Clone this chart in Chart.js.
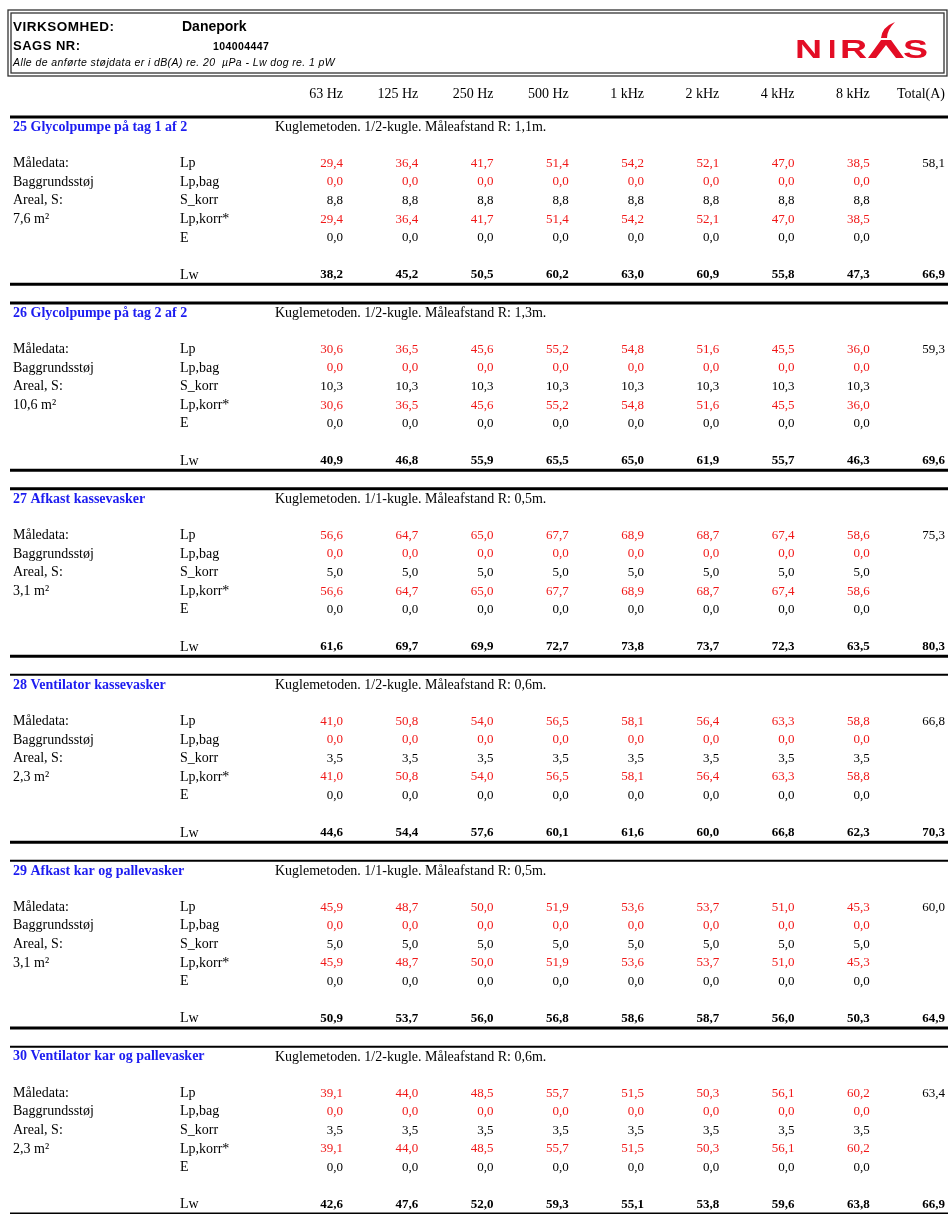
<!DOCTYPE html>
<html>
<head>
<meta charset="utf-8">
<script src="https://cdn.jsdelivr.net/npm/chart.js@4.4.1/dist/chart.umd.min.js"></script>
<style>
  html, body { margin: 0; padding: 0; background: #fff; }
  #myChart { display: block; width: 948px; height: 1214px; }
</style>
</head>
<body>
<canvas id="myChart" width="948" height="1214"></canvas>
<script>
const freqLabels = ['63 Hz', '125 Hz', '250 Hz', '500 Hz', '1 kHz', '2 kHz', '4 kHz', '8 kHz', 'Total(A)']

const sectionTitles = [
    '25 Glycolpumpe på tag 1 af 2',
    '26 Glycolpumpe på tag 2 af 2',
    '27 Afkast kassevasker',
    '28 Ventilator kassevasker',
    '29 Afkast kar og pallevasker',
    '30 Ventilator kar og pallevasker'
]
const methodTexts = [
    'Kuglemetoden. 1/2-kugle. Måleafstand R: 1,1m.',
    'Kuglemetoden. 1/2-kugle. Måleafstand R: 1,3m.',
    'Kuglemetoden. 1/1-kugle. Måleafstand R: 0,5m.',
    'Kuglemetoden. 1/2-kugle. Måleafstand R: 0,6m.',
    'Kuglemetoden. 1/1-kugle. Måleafstand R: 0,5m.',
    'Kuglemetoden. 1/2-kugle. Måleafstand R: 0,6m.'
]
const areaTexts = ['7,6 m²', '10,6 m²', '3,1 m²', '2,3 m²', '3,1 m²', '2,3 m²']

// Lp per oktavbånd 63 Hz .. 8 kHz
const lp = [
    [29.4, 36.4, 41.7, 51.4, 54.2, 52.1, 47.0, 38.5],
    [30.6, 36.5, 45.6, 55.2, 54.8, 51.6, 45.5, 36.0],
    [56.6, 64.7, 65.0, 67.7, 68.9, 68.7, 67.4, 58.6],
    [41.0, 50.8, 54.0, 56.5, 58.1, 56.4, 63.3, 58.8],
    [45.9, 48.7, 50.0, 51.9, 53.6, 53.7, 51.0, 45.3],
    [39.1, 44.0, 48.5, 55.7, 51.5, 50.3, 56.1, 60.2]
]
const lpTotal = [58.1, 59.3, 75.3, 66.8, 60.0, 63.4]
const lpBag = [0.0, 0.0, 0.0, 0.0, 0.0, 0.0]
const sKorr = [8.8, 10.3, 5.0, 3.5, 5.0, 3.5]
const eKorr = [0.0, 0.0, 0.0, 0.0, 0.0, 0.0]
// Lp,korr* er den samme som Lp (baggrund 0,0)
const lpKorr = lp
// Lw 63 Hz .. 8 kHz + Total(A)
const lw = [
    [38.2, 45.2, 50.5, 60.2, 63.0, 60.9, 55.8, 47.3, 66.9],
    [40.9, 46.8, 55.9, 65.5, 65.0, 61.9, 55.7, 46.3, 69.6],
    [61.6, 69.7, 69.9, 72.7, 73.8, 73.7, 72.3, 63.5, 80.3],
    [44.6, 54.4, 57.6, 60.1, 61.6, 60.0, 66.8, 62.3, 70.3],
    [50.9, 53.7, 56.0, 56.8, 58.6, 58.7, 56.0, 50.3, 64.9],
    [42.6, 47.6, 52.0, 59.3, 55.1, 53.8, 59.6, 63.8, 66.9]
]

const rowNames = ['Lp', 'Lp,bag', 'S_korr', 'Lp,korr*', 'E']
const sideLabels = ['Måledata:', 'Baggrundsstøj', 'Areal, S:']

// x: column index (value right edge), y: row units (10 per section)
const colLabelX = -4.385
const colRowX = -2.166
const colMethodX = -0.904
const rowLp = 2.5, rowLw = 8.5, rowTitle = 0.55

const red = '#f01818'
const blue = '#1c1cf0'

const labelPts = [], titlePts = [], redPts = [], blackPts = [], boldPts = []

sectionTitles.forEach((title, s) => {
    const base = 10 * s
    titlePts.push({ x: colLabelX, y: base + rowTitle, t: title })
    labelPts.push({ x: colMethodX, y: base + rowTitle, t: methodTexts[s] })
    sideLabels.forEach((l, r) => labelPts.push({ x: colLabelX, y: base + rowLp + r, t: l }))
    labelPts.push({ x: colLabelX, y: base + rowLp + 3, t: areaTexts[s] })
    rowNames.forEach((n, r) => labelPts.push({ x: colRowX, y: base + rowLp + r, t: n }))
    labelPts.push({ x: colRowX, y: base + rowLw, t: 'Lw' })

    for (let i = 0; i < 8; i++) {
        redPts.push({ x: i, y: base + rowLp, v: lp[s][i] })
        redPts.push({ x: i, y: base + rowLp + 1, v: lpBag[s] })
        blackPts.push({ x: i, y: base + rowLp + 2, v: sKorr[s] })
        redPts.push({ x: i, y: base + rowLp + 3, v: lpKorr[s][i] })
        blackPts.push({ x: i, y: base + rowLp + 4, v: eKorr[s] })
    }
    blackPts.push({ x: 8, y: base + rowLp, v: lpTotal[s] })
    lw[s].forEach((v, i) => boldPts.push({ x: i, y: base + rowLw, v: v }))
})

function textSet(data, color, bold, align, size) {
    return { data, textColor: color, bold, align, size, pointRadius: 0, pointHoverRadius: 0, showLine: false }
}

const fmt = v => v.toFixed(1).replace('.', ',')

const tablePlugin = {
    id: 'tablePlugin',
    beforeDraw(chart) {
        const c = chart.ctx
        c.save()
        c.strokeStyle = '#333'
        c.lineWidth = 1.3
        c.strokeRect(8, 10, 939, 66)
        c.strokeRect(11, 13, 933, 60)

        c.fillStyle = '#000'
        c.textBaseline = 'middle'
        c.textAlign = 'left'
        c.letterSpacing = '0.5px'
        c.font = 'bold 13.5px "Liberation Sans"'
        c.fillText('VIRKSOMHED:', 13, 27)
        c.font = 'bold 13px "Liberation Sans"'
        c.fillText('SAGS NR:', 13, 46)
        c.letterSpacing = '0px'
        c.font = 'bold 14px "Liberation Sans"'
        c.fillText('Danepork', 182, 27)
        c.letterSpacing = '0.4px'
        c.font = 'bold 10.5px "Liberation Sans"'
        c.fillText('104004447', 213, 47)
        c.font = 'italic 10.5px "Liberation Sans"'
        c.fillText('Alle de anførte støjdata er i dB(A) re. 20  µPa - Lw dog re. 1 pW', 13, 63)
        c.letterSpacing = '0px'

        // NIRAS logo
        c.fillStyle = '#e30d25'
        c.font = 'bold 25px "Liberation Sans"'
        c.textBaseline = 'alphabetic'
        const letters = [['N', 795], ['I', 828], ['R', 840], ['S', 903]]
        letters.forEach(([l, x]) => {
            c.save()
            c.translate(x, 58)
            c.scale(l === 'I' ? 1.2 : 1.5, 1)
            c.fillText(l, 0, 0)
            c.restore()
        })
        c.beginPath()
        c.moveTo(868, 58)
        c.lineTo(881, 40)
        c.lineTo(891, 40)
        c.lineTo(904, 58)
        c.lineTo(896, 58)
        c.lineTo(886, 45)
        c.lineTo(876, 58)
        c.closePath()
        c.fill()
        c.beginPath()
        c.moveTo(881, 38)
        c.quadraticCurveTo(882, 27, 895, 22)
        c.quadraticCurveTo(887, 30, 887, 38)
        c.closePath()
        c.fill()
        c.restore()
    },
    beforeDatasetsDraw(chart) {
        const c = chart.ctx
        const y = chart.scales.y
        c.save()
        c.strokeStyle = '#000'
        sectionTitles.forEach((t, s) => {
            c.lineWidth = s < 3 ? 3 : 2
            c.beginPath()
            c.moveTo(10, y.getPixelForValue(10 * s))
            c.lineTo(948, y.getPixelForValue(10 * s))
            c.stroke()
            c.lineWidth = 3
            c.beginPath()
            c.moveTo(10, y.getPixelForValue(10 * s + 9))
            c.lineTo(948, y.getPixelForValue(10 * s + 9))
            c.stroke()
        })
        c.restore()
    },
    afterDatasetsDraw(chart) {
        const c = chart.ctx
        chart.data.datasets.forEach((ds, i) => {
            const meta = chart.getDatasetMeta(i)
            c.save()
            c.font = (ds.bold ? 'bold ' : '') + ds.size + 'px "Liberation Serif"'
            c.fillStyle = ds.textColor
            c.textAlign = ds.align
            c.textBaseline = 'middle'
            meta.data.forEach((el, j) => {
                const raw = ds.data[j]
                c.fillText(raw.t !== undefined ? raw.t : fmt(raw.v), el.x, el.y)
            })
            c.restore()
        })
    }
}

new Chart(document.getElementById('myChart').getContext('2d'), {
    type: 'scatter',
    data: {
        datasets: [
            textSet(titlePts, blue, true, 'left', 14),
            textSet(labelPts, '#000', false, 'left', 14),
            textSet(redPts, red, false, 'right', 13),
            textSet(blackPts, '#000', false, 'right', 13),
            textSet(boldPts, '#000', true, 'right', 13)
        ]
    },
    options: {
        responsive: false,
        animation: false,
        events: [],
        layout: { padding: { top: 87, left: 13, right: 3, bottom: 0 } },
        plugins: { legend: { display: false }, tooltip: { enabled: false } },
        scales: {
            x: {
                type: 'linear',
                position: 'top',
                min: colLabelX,
                max: 8,
                grid: { display: false, drawTicks: false },
                border: { display: false },
                afterBuildTicks: s => { s.ticks = freqLabels.map((l, i) => ({ value: i })) },
                afterFit: s => {
                    s.height = 30
                    s.paddingLeft = 0
                    s.paddingRight = 0
                },
                ticks: {
                    align: 'end',
                    padding: 14,
                    autoSkip: false,
                    maxRotation: 0,
                    color: '#000',
                    font: { family: 'Liberation Serif', size: 14 },
                    callback: v => freqLabels[v]
                }
            },
            y: { type: 'linear', reverse: true, min: 0, max: 59, display: false }
        }
    },
    plugins: [tablePlugin]
})
</script>
</body>
</html>
